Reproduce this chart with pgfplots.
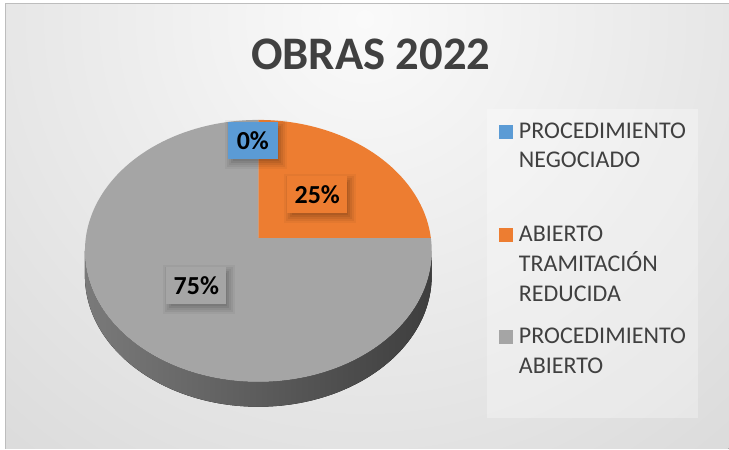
\documentclass[border=0pt]{standalone}
\usepackage{pgfplots}
\pgfplotsset{compat=1.18}
\usepackage{pgfplotstable}
\usepackage{fontspec}
\setmainfont{Carlito}
\definecolor{cBlue}{HTML}{5B9BD5}
\definecolor{cOrange}{HTML}{ED7D31}
\definecolor{cGray}{HTML}{A5A5A5}
\definecolor{cText}{HTML}{404040}
\definecolor{bgIn}{HTML}{FAFAFA}
\definecolor{bgOut}{HTML}{BDBDBD}
\definecolor{sideL}{HTML}{7A7A7A}
\definecolor{sideM}{HTML}{454545}
\definecolor{sideR}{HTML}{3E3E3E}

\pgfplotstableread{
label value
Negociado 0
Reducida 25
Abierto 75
}\piedata

% rim parameter angle for a ray from the apex (perspective: apex above ellipse centre)
\newcommand\rimang[2]{%
  \pgfmathsetmacro\rc{cos(#1)}%
  \pgfmathsetmacro\rs{sin(#1)}%
  \pgfmathsetmacro\rk{173.5/131}%
  \pgfmathsetmacro\re{13/131}%
  \pgfmathsetmacro\rA{\rc*\rc+\rs*\rs*\rk*\rk}%
  \pgfmathsetmacro\rB{2*\re*\rs*\rk}%
  \pgfmathsetmacro\rC{\re*\re-1}%
  \pgfmathsetmacro\rt{(-\rB+sqrt(\rB*\rB-4*\rA*\rC))/(2*\rA)}%
  \pgfmathsetmacro\rraw{atan2(\re+\rt*\rs*\rk,\rt*\rc)}%
  \pgfmathsetmacro#2{#1+mod(\rraw-(#1)+540,360)-180}%
}
\newcommand\slice[3]{%
  \fill[#3] (axis cs:258.5,211) -- (axis cs:{258.5+173.5*cos(#1)},{198+131*sin(#1)})
    arc[start angle=#1,end angle=#2,x radius=130.125pt,y radius=98.25pt] -- cycle;}
\newcommand\softshadow[4]{%
  \fill[black, opacity=0.07] (axis cs:{#1-#3/2+3+2},{#2-#4/2-4+2}) rectangle (axis cs:{#1+#3/2+3-2},{#2+#4/2-4-2});
  \fill[black, opacity=0.07] (axis cs:{#1-#3/2+3},{#2-#4/2-4}) rectangle (axis cs:{#1+#3/2+3},{#2+#4/2-4});
  \fill[black, opacity=0.06] (axis cs:{#1-#3/2+3-2},{#2-#4/2-4-2}) rectangle (axis cs:{#1+#3/2+3+2},{#2+#4/2-4+2});
  \fill[black, opacity=0.05] (axis cs:{#1-#3/2+3-4},{#2-#4/2-4-4}) rectangle (axis cs:{#1+#3/2+3+4},{#2+#4/2-4+4});
  \fill[black, opacity=0.04] (axis cs:{#1-#3/2+3-6},{#2-#4/2-4-6}) rectangle (axis cs:{#1+#3/2+3+6},{#2+#4/2-4+6});
}

\begin{document}
\begin{tikzpicture}
\pgfplotstablegetelem{0}{value}\of\piedata\edef\vN{\pgfplotsretval}
\pgfplotstablegetelem{1}{value}\of\piedata\edef\vA{\pgfplotsretval}
\pgfplotstablegetelem{2}{value}\of\piedata\edef\vP{\pgfplotsretval}
\pgfmathsetmacro\aA{90}
\pgfmathsetmacro\aB{90-3.6*\vN}
\pgfmathsetmacro\aC{\aB-3.6*\vA}
\pgfmathsetmacro\aD{\aC-3.6*\vP}
\rimang{\aA}{\pA}
\rimang{\aB}{\pB}
\rimang{\aC}{\pC}
\rimang{\aD}{\pD}
\begin{axis}[scale only axis, width=546.75pt, height=336.75pt,
  xmin=0, xmax=729, ymin=0, ymax=449, hide axis, clip=false]
% background
\fill[white] (axis cs:0,0) rectangle (axis cs:729,449);
\begin{scope}
\clip (axis cs:6,0) rectangle (axis cs:729,445);
\fill[inner color=bgIn, outer color=bgOut] (axis cs:365,430) circle[radius=840pt];
\end{scope}
\draw[line width=0.75pt, bgOut] (axis cs:6,0) -- (axis cs:6,445) -- (axis cs:729,445);
% pie side
\fill[left color=sideL, middle color=sideM, right color=sideR]
  (axis cs:85,198) arc[start angle=180,end angle=360,x radius=130.125pt,y radius=98.25pt]
  -- ++(0,-18.75pt) arc[start angle=360,end angle=180,x radius=130.125pt,y radius=98.25pt] -- cycle;
% pie top
\slice{\pC}{\pD}{cGray}
\slice{\pB}{\pC}{cOrange}
\slice{\pA}{\pB}{cBlue}
% data labels
\tikzset{lbl/.style={inner sep=0pt, minimum height=27.75pt, text=black,
  font=\bfseries\fontsize{19.5}{20}\selectfont}}
\softshadow{253}{308.5}{50}{37}
\node[lbl, fill=cBlue, minimum width=37.5pt] at (axis cs:253,308.5) {0\%};
\softshadow{317.5}{254}{60}{37}
\node[lbl, fill=cOrange, minimum width=45pt] at (axis cs:317.5,254) {25\%};
\softshadow{196.5}{163.5}{60}{37}
\node[lbl, fill=cGray, minimum width=45pt] at (axis cs:196.5,163.5) {75\%};
% title
\node[anchor=base, text=cText, font=\bfseries\fontsize{35}{40}\selectfont]
  at (axis cs:371,379) {OBRAS 2022};
% legend
\fill[white, opacity=0.3] (axis cs:487,340) rectangle (axis cs:698,31);
\tikzset{leg/.style={anchor=base west, inner sep=0pt, text=cText,
  font=\fontsize{18}{21}\selectfont}}
\fill[cBlue] (axis cs:499,310) rectangle (axis cs:513,324);
\node[leg] at (axis cs:519,310) {PROCEDIMIENTO};
\node[leg] at (axis cs:519,281) {NEGOCIADO};
\fill[cOrange] (axis cs:499,207) rectangle (axis cs:513,221);
\node[leg] at (axis cs:519,207) {ABIERTO};
\node[leg] at (axis cs:519,177) {TRAMITACIÓN};
\node[leg] at (axis cs:519,147) {REDUCIDA};
\fill[cGray] (axis cs:499,105) rectangle (axis cs:513,119);
\node[leg] at (axis cs:519,105) {PROCEDIMIENTO};
\node[leg] at (axis cs:519,75) {ABIERTO};
\end{axis}
\end{tikzpicture}
\end{document}
